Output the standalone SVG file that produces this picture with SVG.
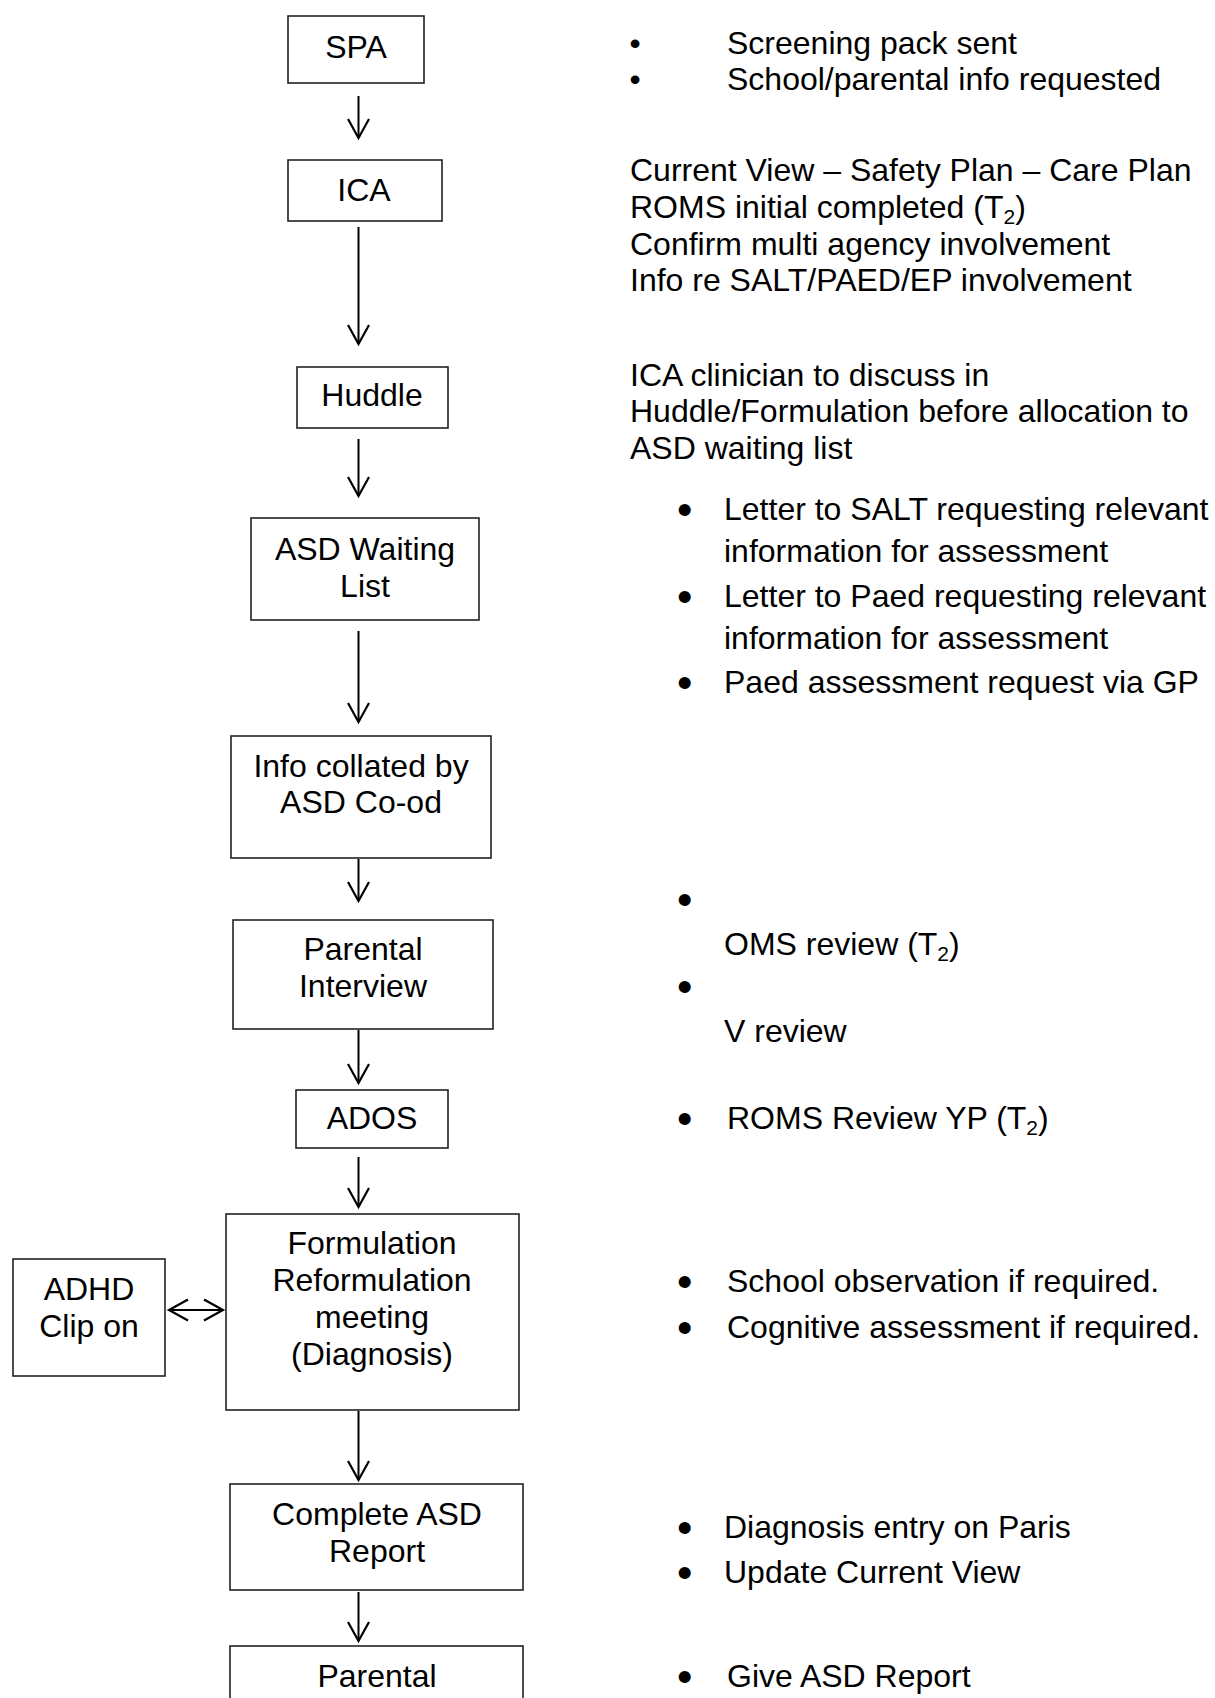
<svg xmlns="http://www.w3.org/2000/svg" width="1215" height="1698" viewBox="0 0 1215 1698">
<style>
  text { font-family: "Liberation Sans", Arial, sans-serif; font-size: 32px; fill: #000; }
  .c { text-anchor: middle; }
  .b { font-size: 44px; }
  .box { fill: #fff; stroke: #222; stroke-width: 1.6; }
  .arr { stroke: #000; stroke-width: 2; fill: none; }
  .sub { font-size: 21px; }
</style>
<defs>
  <marker id="ah" viewBox="-22 -12 26 24" refX="0" refY="0" markerWidth="26" markerHeight="24" markerUnits="userSpaceOnUse" orient="auto-start-reverse">
    <path d="M-19,-10.5 L0,0 L-19,10.5" fill="none" stroke="#000" stroke-width="2.2"/>
  </marker>
</defs>
<rect width="1215" height="1698" fill="#fff"/>

<g id="connectors">
  <line class="arr" x1="358.5" y1="96" x2="358.5" y2="138" marker-end="url(#ah)"/>
  <line class="arr" x1="358.5" y1="227" x2="358.5" y2="344" marker-end="url(#ah)"/>
  <line class="arr" x1="358.5" y1="439" x2="358.5" y2="496" marker-end="url(#ah)"/>
  <line class="arr" x1="358.5" y1="631" x2="358.5" y2="722" marker-end="url(#ah)"/>
  <line class="arr" x1="358.5" y1="859" x2="358.5" y2="901" marker-end="url(#ah)"/>
  <line class="arr" x1="358.5" y1="1030" x2="358.5" y2="1083" marker-end="url(#ah)"/>
  <line class="arr" x1="358.5" y1="1157" x2="358.5" y2="1207" marker-end="url(#ah)"/>
  <line class="arr" x1="358.5" y1="1411" x2="358.5" y2="1480" marker-end="url(#ah)"/>
  <line class="arr" x1="358.5" y1="1592" x2="358.5" y2="1641" marker-end="url(#ah)"/>
  <line class="arr" x1="169" y1="1310" x2="223" y2="1310" marker-start="url(#ah)" marker-end="url(#ah)"/>
</g>

<g id="spa"><rect class="box" x="288" y="16" width="136" height="67"/><text class="c" x="356" y="58">SPA</text></g>
<g id="ica"><rect class="box" x="288" y="160" width="154" height="61"/><text class="c" x="364" y="201">ICA</text></g>
<g id="huddle"><rect class="box" x="297" y="367" width="151" height="61"/><text class="c" x="372" y="406">Huddle</text></g>
<g id="asd-waiting"><rect class="box" x="251" y="518" width="228" height="102"/><text class="c" x="365" y="560">ASD Waiting</text><text class="c" x="365" y="597">List</text></g>
<g id="info-collated"><rect class="box" x="231" y="736" width="260" height="122"/><text class="c" x="361" y="777">Info collated by</text><text class="c" x="361" y="813">ASD Co-od</text></g>
<g id="parental-interview"><rect class="box" x="233" y="920" width="260" height="109"/><text class="c" x="363" y="960">Parental</text><text class="c" x="363" y="997">Interview</text></g>
<g id="ados"><rect class="box" x="296" y="1090" width="152" height="58"/><text class="c" x="372" y="1129">ADOS</text></g>
<g id="formulation"><rect class="box" x="226" y="1214" width="293" height="196"/><text class="c" x="372" y="1254">Formulation</text><text class="c" x="372" y="1291">Reformulation</text><text class="c" x="372" y="1328">meeting</text><text class="c" x="372" y="1365">(Diagnosis)</text></g>
<g id="adhd"><rect class="box" x="13" y="1259" width="152" height="117"/><text class="c" x="89" y="1300">ADHD</text><text class="c" x="89" y="1337">Clip on</text></g>
<g id="complete-report"><rect class="box" x="230" y="1484" width="293" height="106"/><text class="c" x="377" y="1525">Complete ASD</text><text class="c" x="377" y="1562">Report</text></g>
<g id="parental-feedback"><rect class="box" x="230" y="1646" width="293" height="80"/><text class="c" x="377" y="1687">Parental</text></g>

<g id="notes">
  <text x="629.5" y="54">•</text><text x="727" y="54">Screening pack sent</text>
  <text x="629.5" y="90">•</text><text x="727" y="90">School/parental info requested</text>

  <text x="630" y="181">Current View – Safety Plan – Care Plan</text>
  <text x="630" y="218">ROMS initial completed (T<tspan class="sub" dy="6">2</tspan><tspan dy="-6">)</tspan></text>
  <text x="630" y="255">Confirm multi agency involvement</text>
  <text x="630" y="291">Info re SALT/PAED/EP involvement</text>

  <text x="630" y="386">ICA clinician to discuss in</text>
  <text x="630" y="422">Huddle/Formulation before allocation to</text>
  <text x="630" y="459">ASD waiting list</text>

  <text class="b" x="677" y="525">•</text><text x="724" y="520">Letter to SALT requesting relevant</text>
  <text x="724" y="562">information for assessment</text>
  <text class="b" x="677" y="612">•</text><text x="724" y="607">Letter to Paed requesting relevant</text>
  <text x="724" y="649">information for assessment</text>
  <text class="b" x="677" y="698">•</text><text x="724" y="693">Paed assessment request via GP</text>

  <text class="b" x="677" y="915">•</text>
  <text x="724" y="955">OMS review (T<tspan class="sub" dy="6">2</tspan><tspan dy="-6">)</tspan></text>
  <text class="b" x="677" y="1002">•</text>
  <text x="724" y="1042">V review</text>

  <text class="b" x="677" y="1134">•</text><text x="727" y="1129">ROMS Review YP (T<tspan class="sub" dy="6">2</tspan><tspan dy="-6">)</tspan></text>

  <text class="b" x="677" y="1297">•</text><text x="727" y="1292">School observation if required.</text>
  <text class="b" x="677" y="1343">•</text><text x="727" y="1338">Cognitive assessment if required.</text>

  <text class="b" x="677" y="1543">•</text><text x="724" y="1538">Diagnosis entry on Paris</text>
  <text class="b" x="677" y="1588">•</text><text x="724" y="1583">Update Current View</text>

  <text class="b" x="677" y="1692">•</text><text x="727" y="1687">Give ASD Report</text>
</g>
</svg>
